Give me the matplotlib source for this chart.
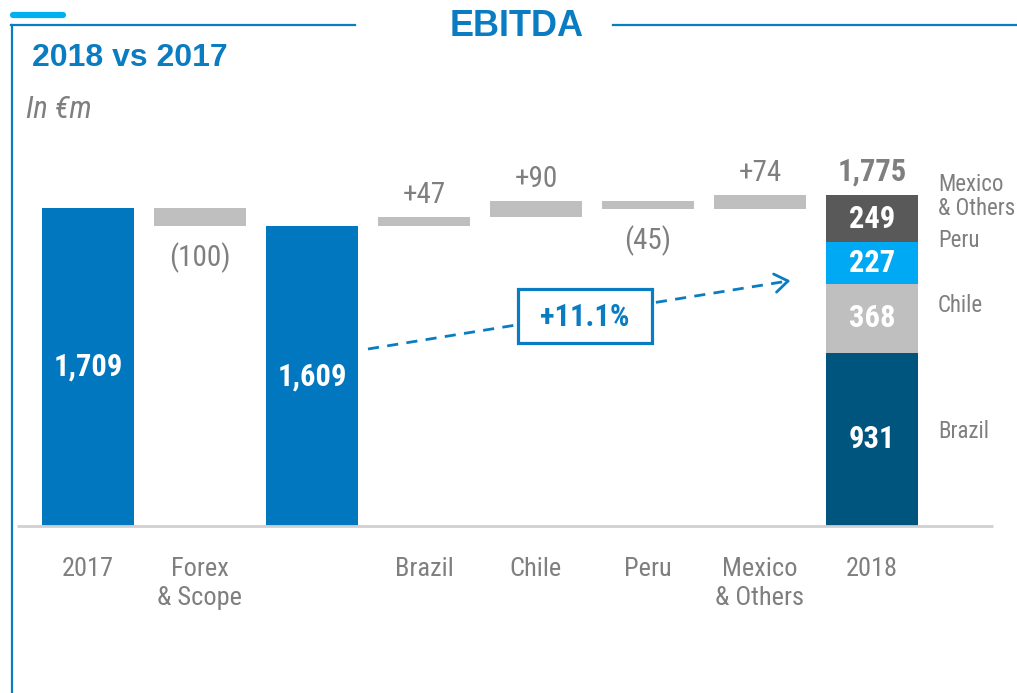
import matplotlib
matplotlib.use("Agg")
import matplotlib.pyplot as plt
from matplotlib.lines import Line2D
from matplotlib.patches import Rectangle
from matplotlib import font_manager
import numpy as np

# ---- data (EUR m) ----
categories = ["2017", "Forex\n& Scope", "", "Brazil", "Chile", "Peru", "Mexico\n& Others", "2018"]
ebitda_2017 = 1709
forex_scope = -100
country_deltas = [47, 90, -45, 74]          # Brazil, Chile, Peru, Mexico & Others
stack_names = ["Brazil", "Chile", "Peru", "Mexico\n& Others"]
stack_values = [931, 368, 227, 249]
growth_label = "+11.1%"

# ---- style ----
BLUE = "#0077be"
FRAME = "#0a7dc2"
CYAN = "#00b0f0"
GREY_BAR = "#bfbfbf"
GREY_TXT = "#7f7f7f"
STACK_COLORS = ["#00557f", "#bfbfbf", "#00a9f4", "#595959"]

available = {f.name for f in font_manager.fontManager.ttflist}
condensed = [n for n in ("Liberation Sans Narrow", "Arial Narrow", "Roboto Condensed",
                         "Open Sans Condensed", "DejaVu Sans Condensed") if n in available]
if condensed:
    NARROW = [condensed[0], "Liberation Sans", "DejaVu Sans"]
    K = 1.0
else:
    NARROW = ["Liberation Sans", "DejaVu Sans"]
    K = 0.88            # regular width face: shrink a little to keep label widths
WIDE = ["Liberation Sans", "DejaVu Sans"]

W, H = 1017, 693
fig = plt.figure(figsize=(W / 100, H / 100), dpi=100)

# layout constants (pixels)
X0, DX = 88, 112          # first bar centre, bar pitch
BASE_Y = 526              # baseline row
SCALE = 0.1863            # pixels per EUR m
BAR_W = 0.83

ax = fig.add_axes([0, 0, 1, 1])
ax.set_xlim(-X0 / DX, (W - X0) / DX)
ax.set_ylim((BASE_Y - H) / SCALE, BASE_Y / SCALE)
ax.axis("off")


def px(x, y):
    """pixel position (origin top-left) -> figure fraction"""
    return x / W, 1 - y / H


def px_to_val(dpx):
    return dpx / SCALE


# ---- waterfall ----
subtotal = ebitda_2017 + forex_scope
ebitda_2018 = subtotal + sum(country_deltas)

ax.bar(0, ebitda_2017, width=BAR_W, color=BLUE, zorder=2)
ax.bar(1, abs(forex_scope), bottom=min(ebitda_2017, subtotal), width=BAR_W,
       color=GREY_BAR, zorder=2)
ax.bar(2, subtotal, width=BAR_W, color=BLUE, zorder=2)

level = subtotal
delta_steps = [(1, ebitda_2017, forex_scope)]
for i, d in enumerate(country_deltas):
    x = 3 + i
    ax.bar(x, abs(d), bottom=min(level, level + d), width=BAR_W, color=GREY_BAR, zorder=2)
    delta_steps.append((x, level, d))
    level += d

# stacked 2018 bar
bottom = 0
stack_mids = []
for v, c in zip(stack_values, STACK_COLORS):
    ax.bar(7, v, bottom=bottom, width=BAR_W, color=c, zorder=2)
    stack_mids.append(bottom + v / 2)
    bottom += v

# baseline
ax.plot([(17 - X0) / DX, (993 - X0) / DX], [0, 0], color="#d0d0d0", lw=2, zorder=3,
        solid_capstyle="butt")

# ---- value labels ----
bold_val = dict(family=NARROW, fontsize=22 * K, fontweight="bold", ha="center", va="center")
ax.text(0, ebitda_2017 / 2, f"{ebitda_2017:,}", color="white", zorder=4, **bold_val)
ax.text(2, subtotal / 2, f"{subtotal:,}", color="white", zorder=4, **bold_val)
for v, m in zip(stack_values, stack_mids):
    ax.text(7, m, f"{v:,}", color="white", zorder=4, **bold_val)
ax.text(7, bottom + px_to_val(9), f"{ebitda_2018:,}", color=GREY_TXT,
        family=NARROW, fontsize=22 * K, fontweight="bold", ha="center", va="bottom")

for x, start, d in delta_steps:
    top = max(start, start + d)
    low = min(start, start + d)
    if d >= 0:
        ax.text(x, top + px_to_val(8), f"+{d}", color=GREY_TXT, family=NARROW,
                fontsize=21 * K, ha="center", va="bottom")
    else:
        ax.text(x, low - px_to_val(16), f"({abs(d)})", color=GREY_TXT, family=NARROW,
                fontsize=21 * K, ha="center", va="top")

# side labels for the stacked segments
side_offsets_px = [8, 13, 22, 22]
for name, m, off in zip(stack_names, stack_mids, side_offsets_px):
    ax.text((938 - X0) / DX, m + px_to_val(off), name, color=GREY_TXT, family=NARROW,
            fontsize=17 * K * 0.97, ha="left", va="center", linespacing=1.05)

# category labels
for i, lab in enumerate(categories):
    if lab:
        ax.text(i, px_to_val(BASE_Y - 557), lab, color=GREY_TXT, family=NARROW,
                fontsize=19 * K, ha="center", va="top", linespacing=1.25)

# ---- growth arrow and box ----
p0 = np.array([368, 349.0])
p1 = np.array([788, 281.0])
fig.add_artist(Line2D([px(*p0)[0], px(*p1)[0]], [px(*p0)[1], px(*p1)[1]],
                      transform=fig.transFigure, color=FRAME, lw=2, ls=(0, (4, 3)),
                      zorder=5))
direction = (p1 - p0) / np.linalg.norm(p1 - p0)
for ang in (35, -35):
    a = np.deg2rad(ang)
    rot = np.array([[np.cos(a), -np.sin(a)], [np.sin(a), np.cos(a)]])
    arm = p1 - 16 * rot @ direction
    fig.add_artist(Line2D([px(*arm)[0], px(*p1)[0]], [px(*arm)[1], px(*p1)[1]],
                          transform=fig.transFigure, color=FRAME, lw=2, zorder=5,
                          solid_capstyle="round"))

bx0, by0, bx1, by1 = 518, 289, 652, 343
fig.add_artist(Rectangle(px(bx0, by1), (bx1 - bx0) / W, (by1 - by0) / H,
                         transform=fig.transFigure, facecolor="white", edgecolor=FRAME,
                         lw=2.3, zorder=6))
fig.text(*px((bx0 + bx1) / 2, (by0 + by1) / 2 + 1), growth_label, color=FRAME,
         family=NARROW, fontsize=22 * K, fontweight="bold", ha="center", va="center",
         zorder=7)

# ---- frame and titles ----
fig.add_artist(Line2D([px(12, 25)[0], px(12, 693)[0]], [px(12, 25)[1], px(12, 693)[1]],
                      transform=fig.transFigure, color=FRAME, lw=1.6))
fig.add_artist(Line2D([px(11, 25)[0], px(355, 25)[0]], [px(11, 25)[1], px(355, 25)[1]],
                      transform=fig.transFigure, color=FRAME, lw=1.6))
fig.add_artist(Line2D([px(613, 25)[0], px(1017, 25)[0]], [px(613, 25)[1], px(1017, 25)[1]],
                      transform=fig.transFigure, color=FRAME, lw=1.6))
fig.add_artist(Line2D([px(13, 15)[0], px(63, 15)[0]], [px(13, 15)[1], px(63, 15)[1]],
                      transform=fig.transFigure, color=CYAN, lw=4.5,
                      solid_capstyle="round"))

fig.text(*px(517, 27), "EBITDA", color=FRAME, family=WIDE, fontsize=26,
         fontweight="bold", ha="center", va="center")
fig.text(*px(32, 58), "2018 vs 2017", color=FRAME, family=WIDE, fontsize=23,
         fontweight="bold", ha="left", va="center")
fig.text(*px(26, 109), "In €m", color=GREY_TXT, family=NARROW, fontsize=22 * K,
         style="italic", ha="left", va="center")

fig.savefig("out.png", dpi=100)
